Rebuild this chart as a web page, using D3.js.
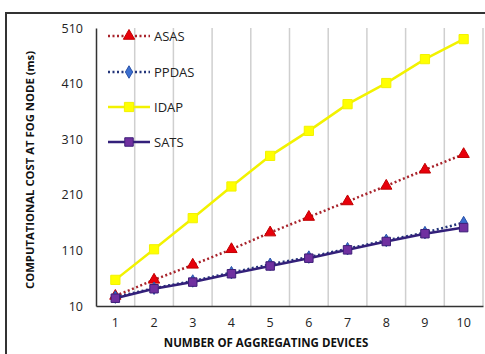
<!DOCTYPE html>
<html><head><meta charset="utf-8">
<script src="https://cdn.jsdelivr.net/npm/d3@7"></script>
<style>body{margin:0;background:#fff}svg{display:block}text{font-family:"Open Sans",Lato,sans-serif}</style>
</head><body>
<svg id="c" width="485" height="354"></svg>
<script>
const categories = [1,2,3,4,5,6,7,8,9,10];
const yTicks = [10,110,210,310,410,510];
const ASAS  = [28, 57, 84, 112, 142, 170, 198, 226, 255, 283];
const PPDAS = [26, 42, 55, 70, 85, 98, 113, 128, 142, 160];
const IDAP  = [57, 112, 168, 225, 280, 325, 373, 411, 454, 490];
const SATS  = [24, 41, 53, 68, 82, 96, 111, 126, 140, 151];
const seriesNames = ["ASAS","PPDAS","IDAP","SATS"];

const svg = d3.select("#c");
const L=96, R=483, T=28, B=306;
const x = d3.scaleBand().domain(categories).range([L,R]);
const y = d3.scaleLinear().domain([10,510]).range([B,T]);

// outer frame
svg.append("rect").attr("x",6).attr("y",13).attr("width",500).attr("height",360)
  .attr("fill","none").attr("stroke","#333").attr("stroke-width",2);

// vertical gridlines
const edges = categories.map(c=>x(c)).concat([R]);
svg.append("g").selectAll("line").data(edges.slice(1)).join("line")
  .attr("x1",d=>d).attr("x2",d=>d).attr("y1",T).attr("y2",B)
  .attr("stroke","#cfcfcf").attr("stroke-width",1.5);

// axes
const xAxis = d3.axisBottom(x).tickSize(0).tickPadding(12);
const gx = svg.append("g").attr("transform",`translate(0,${B})`).call(xAxis);
gx.select(".domain").attr("stroke","#333").attr("stroke-width",1.5);
gx.selectAll("text").attr("font-size",12.5).attr("font-family","'Open Sans',sans-serif").attr("fill","#222");
const yAxis = d3.axisLeft(y).tickValues(yTicks).tickSize(0).tickPadding(13);
const gy = svg.append("g").attr("transform",`translate(${L},0)`).call(yAxis);
gy.select(".domain").attr("stroke","#333").attr("stroke-width",1.5);
gy.selectAll("text").attr("font-size",12.5).attr("font-family","'Open Sans',sans-serif").attr("fill","#222");

// titles
svg.append("text").attr("x",266).attr("y",347).attr("text-anchor","middle")
  .attr("font-size",11.5).attr("font-weight","bold").attr("fill","#111").text("NUMBER OF AGGREGATING DEVICES");
svg.append("text").attr("transform",`translate(34,170) rotate(-90)`).attr("text-anchor","middle")
  .attr("font-size",11.3).attr("font-weight","bold").attr("fill","#111").text("COMPUTATIONAL COST AT FOG NODE (ms)");

const cx = c => x(c)+x.bandwidth()/2;
const styles = {
  ASAS:{data:ASAS, line:"#a8232b", dash:"2,2.5", fill:"#e8000b", stroke:"#c00000", sym:d3.symbolTriangle, size:55},
  PPDAS:{data:PPDAS, line:"#23357a", dash:"2,2.5", fill:"#3b6fd0", stroke:"#2a52a8", sym:d3.symbolDiamond, size:45},
  IDAP:{data:IDAP, line:"#f2f200", dash:null, fill:"#ffff00", stroke:"#f2f200", sym:d3.symbolSquare, size:85},
  SATS:{data:SATS, line:"#33207a", dash:null, fill:"#7030a0", stroke:"#3c1f78", sym:d3.symbolSquare, size:72}
};
const order = ["IDAP","ASAS","PPDAS","SATS"];
const lineGen = d3.line().x((d,i)=>cx(categories[i])).y(d=>y(d));
order.forEach(n=>{
  const s = styles[n];
  const g = svg.append("g");
  g.append("path").datum(s.data).attr("d",lineGen).attr("fill","none")
    .attr("stroke",s.line).attr("stroke-width",2.5).attr("stroke-dasharray",s.dash);
  g.selectAll("path.m").data(s.data).join("path").attr("class","m")
    .attr("transform",(d,i)=>`translate(${cx(categories[i])},${y(d)})`)
    .attr("d",d3.symbol().type(s.sym).size(s.size))
    .attr("fill",s.fill).attr("stroke",s.stroke).attr("stroke-width",1);
});

// legend
const legY = [36,72,107,142];
seriesNames.forEach((n,i)=>{
  const s = styles[n];
  const g = svg.append("g").attr("transform",`translate(0,${legY[i]})`);
  g.append("line").attr("x1",108).attr("x2",150).attr("y1",0).attr("y2",0)
    .attr("stroke",s.line).attr("stroke-width",2.5).attr("stroke-dasharray",s.dash);
  g.append("path").attr("transform","translate(129,0)")
    .attr("d",d3.symbol().type(s.sym).size(s.size)).attr("fill",s.fill).attr("stroke",s.stroke).attr("stroke-width",1);
  g.append("text").attr("x",154).attr("y",5).attr("font-size",13).attr("fill","#222").text(n);
});
</script>
</body></html>
